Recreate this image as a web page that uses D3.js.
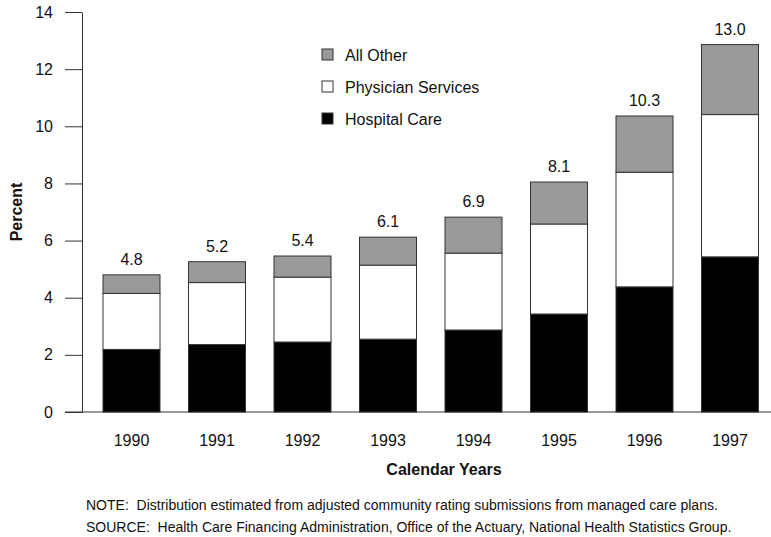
<!DOCTYPE html>
<html>
<head>
<meta charset="utf-8">
<script src="https://cdn.jsdelivr.net/npm/d3@7"></script>
<style>
  body { margin: 0; background: #fff; }
  text { font-family: "Liberation Sans", Arial, sans-serif; fill: #111; }
  .note { white-space: pre; }
</style>
</head>
<body>
<div id="viz"></div>
<script>
const width = 771;
const height = 537;

// Data (percent)
const years = ['1990', '1991', '1992', '1993', '1994', '1995', '1996', '1997'];
const hospital = [2.19, 2.36, 2.45, 2.55, 2.87, 3.43, 4.38, 5.43];
const physician = [1.96, 2.17, 2.27, 2.59, 2.69, 3.15, 4.01, 4.98];
const allOther = [0.65, 0.73, 0.74, 0.98, 1.26, 1.47, 1.97, 2.45];
const totalLabels = ['4.8', '5.2', '5.4', '6.1', '6.9', '8.1', '10.3', '13.0'];
const yTicks = [0, 2, 4, 6, 8, 10, 12, 14];

const seriesKeys = ['hospital', 'physician', 'other'];
const seriesNames = {hospital: 'Hospital Care', physician: 'Physician Services', other: 'All Other'};
const colors = {hospital: '#000000', physician: '#ffffff', other: '#999999'};

const table = years.map((y, i) => ({
  year: y,
  hospital: hospital[i],
  physician: physician[i],
  other: allOther[i],
  label: totalLabels[i]
}));

const svg = d3.select('#viz')
  .append('svg')
  .attr('width', width)
  .attr('height', height);

// Scales
const xScale = d3.scaleBand()
  .domain(years)
  .range([88.75, 772.75])
  .paddingInner(1 / 3)
  .paddingOuter(1 / 6);

const yScale = d3.scaleLinear()
  .domain([0, 14])
  .range([412, 12]);

// Y axis
const yAxis = svg.append('g')
  .attr('transform', 'translate(82, 0)')
  .call(d3.axisLeft(yScale).tickValues(yTicks).tickSize(17).tickPadding(12).tickSizeOuter(0));
yAxis.select('.domain').attr('stroke', '#333');
yAxis.selectAll('.tick line').attr('stroke', '#333');
yAxis.selectAll('.tick text')
  .attr('font-size', 16)
  .attr('font-family', '"Liberation Sans", Arial, sans-serif')
  .attr('fill', '#111');

// X axis line
svg.append('line')
  .attr('x1', 65)
  .attr('x2', 771)
  .attr('y1', yScale(0))
  .attr('y2', yScale(0))
  .attr('stroke', '#333');

// Stacked bars
const stack = d3.stack().keys(seriesKeys)(table);

svg.append('g')
  .selectAll('g')
  .data(stack)
  .join('g')
    .attr('fill', d => colors[d.key])
  .selectAll('rect')
  .data(d => d)
  .join('rect')
    .attr('x', d => xScale(d.data.year))
    .attr('y', d => yScale(d[1]))
    .attr('width', xScale.bandwidth())
    .attr('height', d => yScale(d[0]) - yScale(d[1]))
    .attr('stroke', '#333')
    .attr('stroke-width', 1);

// Total labels
svg.append('g')
  .selectAll('text')
  .data(table)
  .join('text')
    .attr('x', d => xScale(d.year) + xScale.bandwidth() / 2)
    .attr('y', d => yScale(d.hospital + d.physician + d.other) - 10)
    .attr('text-anchor', 'middle')
    .attr('font-size', 16)
    .text(d => d.label);

// Year labels
svg.append('g')
  .selectAll('text')
  .data(years)
  .join('text')
    .attr('x', d => xScale(d) + xScale.bandwidth() / 2)
    .attr('y', 446)
    .attr('text-anchor', 'middle')
    .attr('font-size', 16)
    .text(d => d);

// Axis titles
svg.append('text')
  .attr('x', 444)
  .attr('y', 475)
  .attr('text-anchor', 'middle')
  .attr('font-size', 16)
  .attr('font-weight', 'bold')
  .text('Calendar Years');

svg.append('text')
  .attr('transform', 'translate(22, 212) rotate(-90)')
  .attr('text-anchor', 'middle')
  .attr('font-size', 16)
  .attr('font-weight', 'bold')
  .text('Percent');

// Legend
const legendOrder = ['other', 'physician', 'hospital'];
const legend = svg.append('g')
  .selectAll('g')
  .data(legendOrder)
  .join('g')
    .attr('transform', (d, i) => `translate(322, ${55 + i * 32})`);

legend.append('rect')
  .attr('x', 0)
  .attr('y', -6)
  .attr('width', 11)
  .attr('height', 11)
  .attr('fill', d => colors[d])
  .attr('stroke', '#333');

legend.append('text')
  .attr('x', 23)
  .attr('y', 5.5)
  .attr('font-size', 16)
  .text(d => seriesNames[d]);

// Notes
svg.append('text')
  .attr('class', 'note')
  .attr('x', 86)
  .attr('y', 510)
  .attr('font-size', 14)
  .text('NOTE:  Distribution estimated from adjusted community rating submissions from managed care plans.');

svg.append('text')
  .attr('class', 'note')
  .attr('x', 86)
  .attr('y', 532)
  .attr('font-size', 14)
  .text('SOURCE:  Health Care Financing Administration, Office of the Actuary, National Health Statistics Group.');
</script>
</body>
</html>
